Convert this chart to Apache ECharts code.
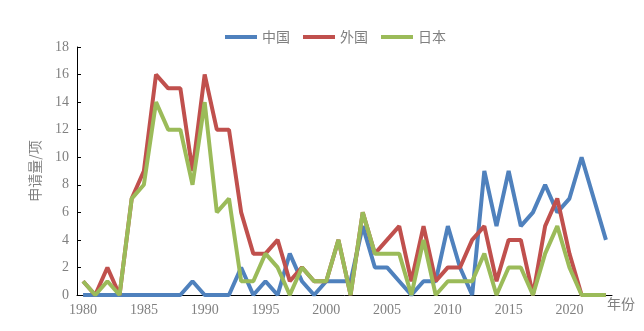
<!DOCTYPE html>
<html><head><meta charset="utf-8">
<script src="https://cdn.jsdelivr.net/npm/echarts@6/dist/echarts.min.js"></script>
<style>html,body{margin:0;padding:0;background:#fff}#c{width:644px;height:331px}</style>
</head><body><div id="c"></div>
<script>
var years = [];
for (var y = 1980; y <= 2023; y++) years.push(String(y));
var china =   [0,0,0,0,0,0,0,0,0,1, 0,0,0,2,0,1,0,3,1,0, 1,1,1,5,2,2,1,0,1,1, 5,2,0,9,5,9,5,6,8,6, 7,10,7,4];
var foreign = [1,0,2,0,7,9,16,15,15,9, 16,12,12,6,3,3,4,1,2,1, 1,4,0,6,3,4,5,1,5,1, 2,2,4,5,1,4,4,0,5,7, 3,0,0,0];
var japan =   [1,0,1,0,7,8,14,12,12,8, 14,6,7,1,1,3,2,0,2,1, 1,4,0,6,3,3,3,0,4,0, 1,1,1,3,0,2,2,0,3,5, 2,0,0,0];
var seriesNames = ['中国','外国','日本'];
var colors = ['#4F81BD','#C0504D','#9BBB59'];
var gray = '#808080';
var chart = echarts.init(document.getElementById('c'));
chart.setOption({
  animation:false,
  color: colors,
  legend:{top:25, left:220, itemWidth:32, itemHeight:4, itemGap:13,
    icon:'rect',
    textStyle:{color:gray, fontSize:14, fontFamily:'Noto Sans CJK SC'},
    data: seriesNames},
  grid:{left:77, right:32, top:47, bottom:36},
  xAxis:{type:'category', data:years, boundaryGap:true,
    name:'年份', nameLocation:'end', nameGap:-5,
    nameTextStyle:{color:gray, fontSize:14, fontFamily:'Noto Sans CJK SC', verticalAlign:'top', padding:[2,0,0,0]},
    axisLine:{lineStyle:{color:'#000', width:1}},
    axisTick:{inside:true, interval:4, length:4, lineStyle:{color:'#000'}},
    axisLabel:{interval:4, color:gray, fontSize:14, fontFamily:'Liberation Serif', margin:8},
    splitLine:{show:false}},
  yAxis:{type:'value', min:0, max:18, interval:2,
    name:'申请量/项', nameLocation:'middle', nameRotate:90, nameGap:35,
    nameTextStyle:{color:gray, fontSize:14, fontFamily:'Noto Sans CJK SC'},
    axisLine:{show:true, lineStyle:{color:'#000', width:1}},
    axisTick:{show:true, inside:true, length:4, lineStyle:{color:'#000'}},
    axisLabel:{color:gray, fontSize:14, fontFamily:'Liberation Serif', margin:8},
    splitLine:{show:false}},
  series:[
    {name:seriesNames[0], type:'line', data:china, symbol:'none', lineStyle:{width:4}},
    {name:seriesNames[1], type:'line', data:foreign, symbol:'none', lineStyle:{width:4}},
    {name:seriesNames[2], type:'line', data:japan, symbol:'none', lineStyle:{width:4}}
  ]
});
</script></body></html>
